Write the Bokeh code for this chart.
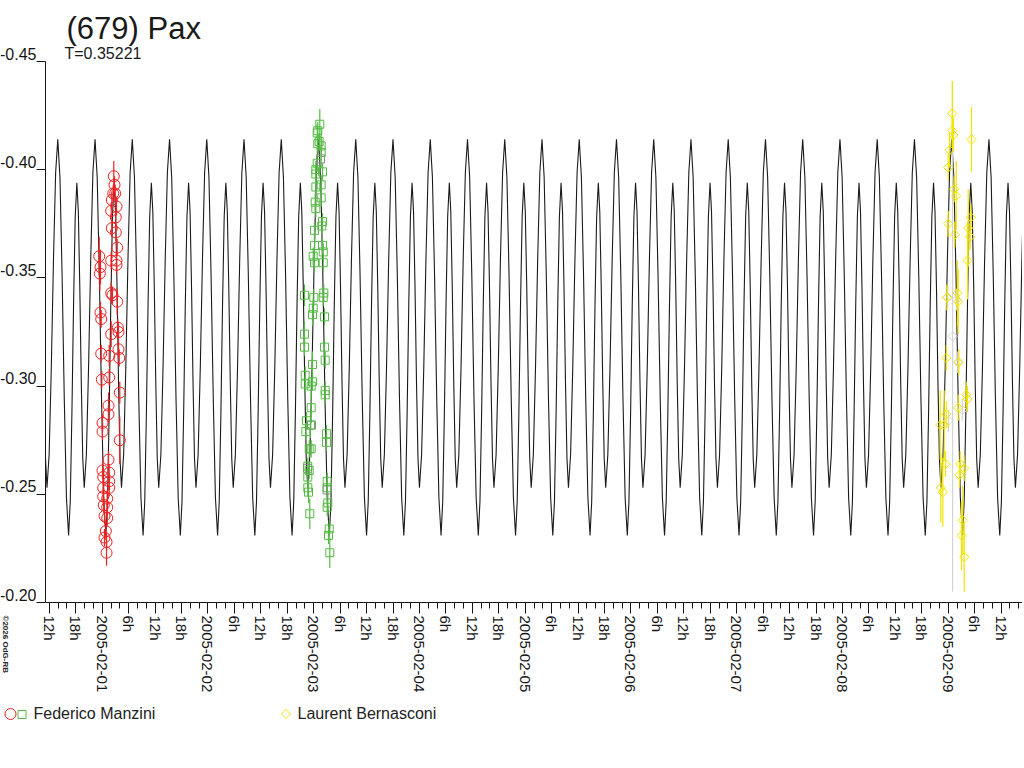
import numpy as np
from bokeh.plotting import figure
from bokeh.layouts import column, row
from bokeh.models import Range1d, FixedTicker, CustomJSTickFormatter
from bokeh.core.properties import value
from bokeh.embed import file_html
from bokeh.resources import INLINE

# ---------------- data ----------------
TITLE = "(679) Pax"
SUBTITLE = "T=0.35221"
PERIOD_D = 0.35221            # rotation period, days
EPOCH_H = -10.08              # time of the main maximum, hours from 2005-02-01 00:00 UT

# one period of the model light curve (phase, magnitude)
model_phase = [0.0, 0.058, 0.116, 0.174, 0.232,
               0.29, 0.3344, 0.3788, 0.4232, 0.4676,
               0.512, 0.5516, 0.5912, 0.6308, 0.6704,
               0.71, 0.768, 0.826, 0.884, 0.942]
model_mag = [-0.414, -0.3965, -0.3508, -0.2942, -0.2485,
             -0.231, -0.2466, -0.2873, -0.3377, -0.3784,
             -0.394, -0.3805, -0.3453, -0.3017, -0.2665,
             -0.253, -0.2684, -0.3086, -0.3584, -0.3986]

# Federico Manzini, session 1 (hours from 2005-02-01 00:00 UT)
red_t = [2.63, 2.79, 2.50, 2.95, 2.18, 3.25, 2.04, 3.09, 2.18, 3.09,
         3.40, -0.68, -0.39, -0.54, 2.04, 3.25, 3.25, 2.04, 2.34, 3.40,
         -0.39, -0.23, 2.04, 3.54, 3.70, -0.23, 1.59, 3.70, 3.86, -0.09,
         1.59, 3.99, 1.43, 1.43, 0.07, 0.07, 3.99, 1.43, 0.07, 1.59,
         0.23, 1.59, 0.23, 1.59, 0.23, 1.13, 0.36, 1.13, 0.52, 1.13,
         0.82, 0.52, 0.98, 0.98]
red_m = [-0.397, -0.393, -0.389, -0.389, -0.386, -0.383, -0.381, -0.378, -0.373, -0.371,
         -0.364, -0.360, -0.355, -0.352, -0.358, -0.358, -0.356, -0.343, -0.342, -0.339,
         -0.334, -0.331, -0.324, -0.327, -0.325, -0.315, -0.314, -0.317, -0.313, -0.303,
         -0.304, -0.297, -0.291, -0.287, -0.283, -0.279, -0.275, -0.266, -0.261, -0.260,
         -0.258, -0.256, -0.253, -0.253, -0.249, -0.248, -0.245, -0.244, -0.240, -0.239,
         -0.233, -0.230, -0.228, -0.223]
red_e = [0.007, 0.004, 0.004, 0.004, 0.004, 0.004, 0.004, 0.004, 0.004, 0.004,
         0.004, 0.009, 0.008, 0.008, 0.004, 0.004, 0.004, 0.005, 0.004, 0.006,
         0.005, 0.004, 0.006, 0.004, 0.004, 0.004, 0.005, 0.004, 0.004, 0.004,
         0.004, 0.005, 0.006, 0.004, 0.004, 0.004, 0.011, 0.004, 0.004, 0.004,
         0.004, 0.004, 0.004, 0.004, 0.004, 0.004, 0.004, 0.004, 0.004, 0.004,
         0.004, 0.004, 0.004, 0.006]

# Federico Manzini, session 2
green_t = [49.38, 48.93, 48.79, 49.25, 48.93, 49.70, 49.70, 48.79, 48.48, 50.00,
           48.48, 49.70, 48.48, 49.70, 48.34, 48.48, 50.00, 49.84, 48.18, 48.18,
           50.00, 50.16, 47.89, 48.18, 50.16, 45.91, 48.02, 50.29, 50.16, 47.89,
           47.73, 50.45, 45.91, 45.91, 50.45, 50.61, 47.73, 46.07, 46.07, 47.73,
           47.43, 50.61, 50.61, 47.43, 46.37, 47.27, 46.21, 50.90, 50.90, 47.43,
           46.98, 46.66, 46.98, 46.66, 46.66, 46.82, 51.06, 51.06, 51.20, 51.06,
           47.11, 51.52, 51.36, 51.65]
green_m = [-0.421, -0.418, -0.417, -0.413, -0.412, -0.411, -0.408, -0.403, -0.400, -0.399,
           -0.398, -0.393, -0.392, -0.387, -0.385, -0.382, -0.376, -0.374, -0.372, -0.365,
           -0.365, -0.362, -0.360, -0.357, -0.357, -0.342, -0.341, -0.343, -0.341, -0.336,
           -0.333, -0.332, -0.324, -0.318, -0.318, -0.312, -0.310, -0.305, -0.301, -0.302,
           -0.300, -0.298, -0.296, -0.290, -0.284, -0.282, -0.279, -0.278, -0.274, -0.271,
           -0.271, -0.263, -0.261, -0.258, -0.253, -0.251, -0.256, -0.253, -0.246, -0.244,
           -0.241, -0.234, -0.231, -0.223]
green_e = [0.007, 0.004, 0.004, 0.004, 0.004, 0.004, 0.004, 0.004, 0.004, 0.004,
           0.004, 0.004, 0.004, 0.004, 0.004, 0.004, 0.004, 0.004, 0.004, 0.004,
           0.004, 0.004, 0.004, 0.004, 0.004, 0.005, 0.004, 0.004, 0.004, 0.004,
           0.005, 0.004, 0.006, 0.004, 0.004, 0.004, 0.006, 0.004, 0.004, 0.004,
           0.004, 0.004, 0.004, 0.007, 0.004, 0.006, 0.004, 0.004, 0.004, 0.004,
           0.004, 0.004, 0.004, 0.004, 0.004, 0.005, 0.004, 0.004, 0.005, 0.004,
           0.007, 0.004, 0.004, 0.007]

# grey points of the second session
grey_sq_t = [49.55, 46.59, 51.02, 47.50]
grey_sq_m = [-0.405, -0.262, -0.252, -0.282]

# Laurent Bernasconi
yel_t = [192.91, 192.91, 193.20, 192.30, 192.00, 197.29, 193.36, 193.82, 192.00, 197.13,
         196.54, 196.99, 193.50, 196.38, 191.68, 194.11, 194.27, 191.55, 194.41, 196.09,
         196.38, 194.27, 191.55, 190.18, 191.09, 191.39, 194.72, 195.63, 194.56, 190.32,
         190.77, 195.31, 195.02, 195.63]
yel_m = [-0.426, -0.418, -0.416, -0.409, -0.401, -0.414, -0.391, -0.388, -0.375, -0.378,
         -0.373, -0.369, -0.370, -0.358, -0.341, -0.343, -0.339, -0.313, -0.311, -0.296,
         -0.294, -0.290, -0.287, -0.282, -0.282, -0.264, -0.264, -0.262, -0.259, -0.253,
         -0.251, -0.238, -0.231, -0.221]
yel_e = [0.015, 0.008, 0.008, 0.008, 0.006, 0.015, 0.006, 0.016, 0.006, 0.006,
         0.018, 0.006, 0.006, 0.018, 0.006, 0.015, 0.015, 0.006, 0.006, 0.006,
         0.006, 0.006, 0.006, 0.016, 0.016, 0.006, 0.006, 0.006, 0.006, 0.016,
         0.016, 0.016, 0.016, 0.016]

grey_di_t = [191.90, 193.90, 194.16, 192.07, 195.20, 193.00]
grey_di_m = [-0.341, -0.340, -0.311, -0.284, -0.289, -0.323]
grey_di_e = [0.005, 0.005, 0.005, 0.005, 0.005, 0.118]

y_ticks = [-0.45, -0.40, -0.35, -0.30, -0.25, -0.20]
y_tick_labels = ["-0.45", "-0.40", "-0.35", "-0.30", "-0.25", "-0.20"]

x_ticks = [-12 + 6 * i for i in range(37)]          # hours, every 6 h
x_minor = [-12 + 2 * i for i in range(112)]         # every 2 h
x_tick_labels = []
for h in x_ticks:
    day, hh = divmod(h, 24)
    x_tick_labels.append("2005-02-%02d" % (day + 1) if hh == 0 else "%dh" % hh)

legend_names = ["Federico Manzini", "Laurent Bernasconi"]
COPYRIGHT = "\u00a92026 OdG-RB"

RED = "#ee2222"
GREEN = "#55bb44"
YELLOW = "#f2e400"
INK = "#151515"
FONT = "Liberation Sans"

# ---------------- layout sizes (pixels) ----------------
W = 1022
HEAD_H = 61          # strip above the plot frame (title)
SIDE_W = 36          # strip left of the y-axis ticks (tick labels)
TICK_W = 9           # y tick marks
FRAME_H = 541
BOTTOM_H = 98        # x tick labels
FOOT_H = 40          # legend strip
MAIN_H = FRAME_H + BOTTOM_H
FRAME_W = W - SIDE_W - TICK_W

Y_TOP, Y_BOT = -0.45, -0.20
X0 = -12.87
X1 = X0 + FRAME_W * 0.22695


def style(f):
    f.outline_line_color = None
    f.xgrid.visible = False
    f.ygrid.visible = False
    f.background_fill_color = "white"
    f.border_fill_color = "white"
    return f


def bare(width, height, x_range, y_range):
    f = figure(width=width, height=height, output_backend="svg", toolbar_location=None,
               x_range=x_range, y_range=y_range, x_axis_type=None, y_axis_type=None,
               min_border=0, min_border_left=0, min_border_right=0,
               min_border_top=0, min_border_bottom=0)
    return style(f)

# ---------------- main plot ----------------
p = figure(width=W - SIDE_W, height=MAIN_H, output_backend="svg", toolbar_location=None,
           x_range=Range1d(X0, X1), y_range=Range1d(Y_BOT, Y_TOP),
           min_border_left=TICK_W, min_border_right=0, min_border_top=0,
           min_border_bottom=BOTTOM_H)
style(p)

# model curve: the one-period profile repeated every period
P_H = PERIOD_D * 24.0
kmin = int(np.floor((X0 - EPOCH_H) / P_H)) - 1
kmax = int(np.ceil((X1 - EPOCH_H) / P_H)) + 1
ph = np.array(model_phase)
mg = np.array(model_mag)
cx, cy = [], []
for k in range(kmin, kmax + 1):
    cx.extend(EPOCH_H + (k + ph) * P_H)
    cy.extend(mg)
p.line(cx, cy, line_color="#1a1a1a", line_width=1.1)


def errbars(t, m, e, color):
    t = np.array(t); m = np.array(m); e = np.array(e)
    p.segment(t, m - e, t, m + e, line_color=color, line_width=1.2)


errbars(grey_di_t, grey_di_m, grey_di_e, "#d4d4d4")
p.scatter(grey_di_t, grey_di_m, marker="square", angle=np.pi / 4, size=6.5,
          fill_color=None, line_color="#d4d4d4", line_width=1)

errbars(red_t, red_m, red_e, RED)
p.scatter(red_t, red_m, marker="circle", size=11, fill_color=None,
          line_color=RED, line_width=1)

errbars(green_t, green_m, green_e, GREEN)
p.scatter(grey_sq_t, grey_sq_m, marker="square", size=8, fill_color=None,
          line_color="#8a8a8a", line_width=1)
p.scatter(green_t, green_m, marker="square", size=8, fill_color=None,
          line_color=GREEN, line_width=1)

errbars(yel_t, yel_m, yel_e, YELLOW)
p.scatter(yel_t, yel_m, marker="square", angle=np.pi / 4, size=6.5,
          fill_color=None, line_color=YELLOW, line_width=1)

xa = p.xaxis[0]
xa.ticker = FixedTicker(ticks=x_ticks, minor_ticks=x_minor)
xa.major_label_overrides = {t: lab for t, lab in zip(x_ticks, x_tick_labels)}
xa.major_label_orientation = -np.pi / 2
xa.major_label_text_font = FONT
xa.major_label_text_font_size = "15px"
xa.major_label_text_color = INK
xa.major_label_standoff = 2
xa.major_tick_out = 11
xa.major_tick_in = 0
xa.minor_tick_out = 6
xa.minor_tick_in = 0
xa.axis_line_color = INK
xa.major_tick_line_color = INK
xa.minor_tick_line_color = INK

ya = p.yaxis[0]
ya.ticker = FixedTicker(ticks=y_ticks, minor_ticks=[])
ya.formatter = CustomJSTickFormatter(code="return '';")
ya.major_tick_out = TICK_W
ya.major_tick_in = 0
ya.minor_tick_out = 0
ya.major_label_standoff = 0
ya.axis_line_color = INK
ya.major_tick_line_color = INK

# ---------------- side strip: y tick labels (same y scale) + credit ----------------
per_px = (Y_BOT - Y_TOP) / FRAME_H                  # magnitude per pixel
side = figure(width=SIDE_W, height=MAIN_H, output_backend="svg", toolbar_location=None,
              x_range=Range1d(0, SIDE_W), y_range=Range1d(Y_BOT, Y_TOP), y_axis_type=None,
              min_border_left=0, min_border_right=0, min_border_top=0,
              min_border_bottom=BOTTOM_H)
style(side)
lift = 8 * per_px                                   # labels sit just above their tick
side.text(x=[SIDE_W] * (len(y_ticks) - 1), y=[v - lift for v in y_ticks[1:]],
          text=y_tick_labels[1:], text_align="right", text_baseline="middle",
          text_font=value(FONT), text_font_size="16px", text_color=INK)
# the credit line is carried by the strip's own (otherwise invisible) x axis
ca = side.xaxis[0]
ca.ticker = FixedTicker(ticks=[4], minor_ticks=[])
ca.major_label_overrides = {4: COPYRIGHT}
ca.major_label_orientation = -np.pi / 2
ca.major_label_text_font = FONT
ca.major_label_text_font_size = "8px"
ca.major_label_text_font_style = "bold"
ca.major_label_text_color = "#222222"
ca.major_label_standoff = 13
ca.major_tick_out = 0
ca.major_tick_in = 0
ca.minor_tick_out = 0
ca.axis_line_color = None
ca.major_tick_line_color = None
ca.minor_tick_line_color = None

# ---------------- head strip: title, subtitle, top tick label ----------------
head = bare(W, HEAD_H, Range1d(0, W), Range1d(HEAD_H, 0))
head.text(x=[66], y=[27.5], text=[TITLE], text_align="left", text_baseline="middle",
          text_font=value(FONT), text_font_size="31px", text_color="#1a1a1a")
head.text(x=[64], y=[52.5], text=[SUBTITLE], text_align="left", text_baseline="middle",
          text_font=value(FONT), text_font_size="16px", text_color="#1a1a1a")
head.text(x=[SIDE_W], y=[HEAD_H - 8], text=[y_tick_labels[0]], text_align="right",
          text_baseline="middle", text_font=value(FONT), text_font_size="16px",
          text_color=INK)

# ---------------- foot strip: legend ----------------
foot = bare(W, FOOT_H, Range1d(0, W), Range1d(FOOT_H, 0))
foot.scatter(x=[10], y=[13.5], marker="circle", size=11, fill_color=None,
             line_color=RED, line_width=1)
foot.scatter(x=[21.5], y=[14], marker="square", size=8, fill_color=None,
             line_color=GREEN, line_width=1)
foot.scatter(x=[285.5], y=[13.5], marker="square", angle=np.pi / 4, size=6.5,
             fill_color=None, line_color=YELLOW, line_width=1)
foot.text(x=[33, 297], y=[12.5, 12.5], text=legend_names, text_align="left",
          text_baseline="middle", text_font=value(FONT), text_font_size="16px",
          text_color="#222222")

layout = column(head, row(side, p, spacing=0), foot, spacing=0)
open("out.html", "w").write(file_html(layout, INLINE))
